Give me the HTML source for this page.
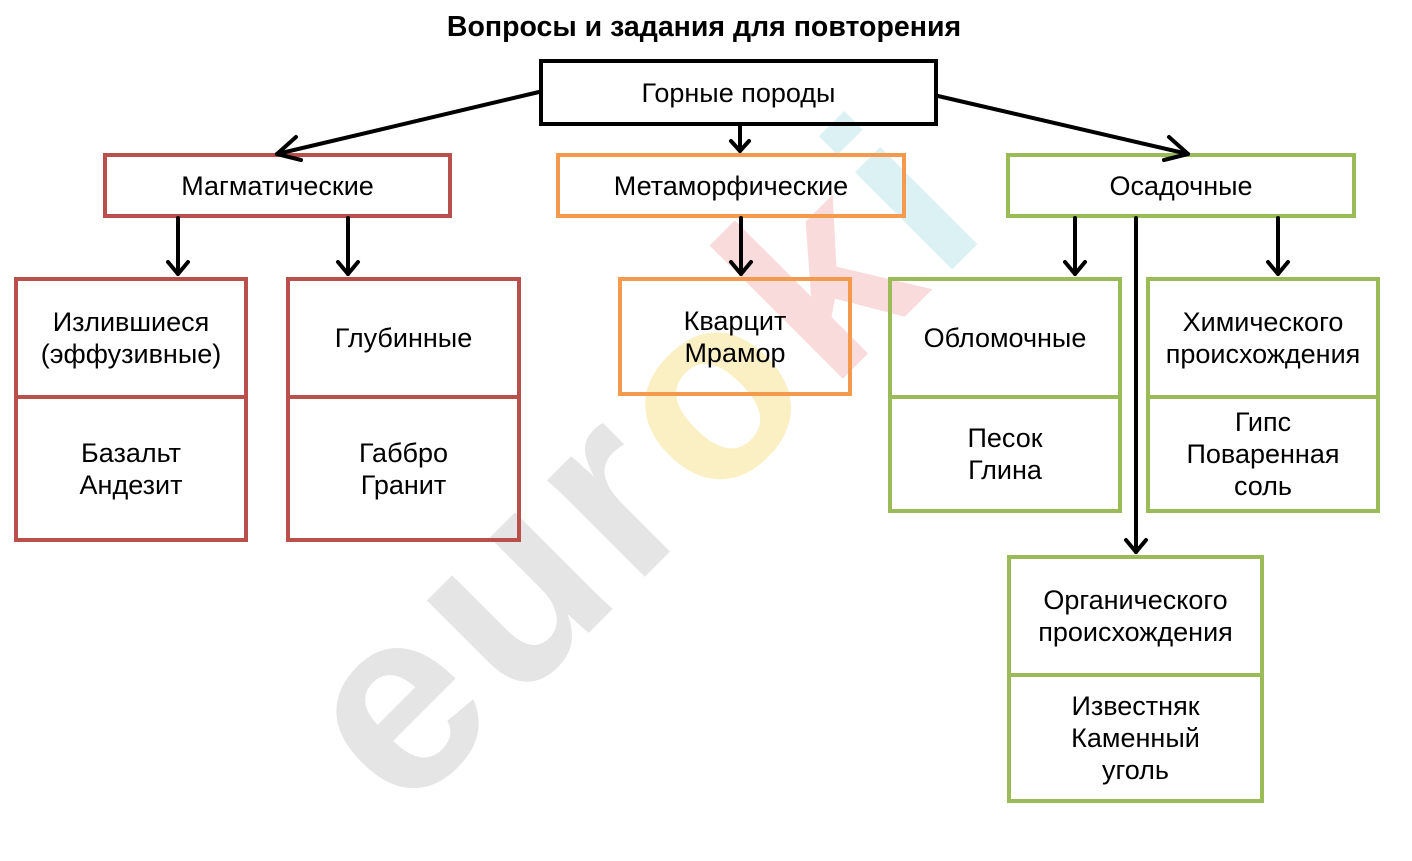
<!DOCTYPE html>
<html><head><meta charset="utf-8"><style>
html,body{margin:0;padding:0;background:#fff;}
body{width:1412px;height:816px;position:relative;overflow:hidden;font-family:"Liberation Sans","DejaVu Sans",sans-serif;}
.b{position:absolute;box-sizing:border-box;border:4px solid;background:transparent;display:flex;flex-direction:column;}
.c{flex:1;display:flex;align-items:center;justify-content:center;text-align:center;font-size:27px;line-height:32px;color:#000;}
.r{border-color:#b9504c;} .o{border-color:#f39a4f;} .g{border-color:#9bbb59;} .k{border-color:#000;}
.d{border-top:4px solid;border-color:inherit;}
svg{position:absolute;left:0;top:0;}
.wm{position:absolute;left:235px;top:650px;font-size:260px;font-weight:bold;color:#ccc;opacity:0.5;transform:rotate(-45deg);transform-origin:left top;white-space:nowrap;letter-spacing:10px;}
</style></head><body>
<div class="wm">eur<span style="color:#f8e08a">o</span><span style="color:#f5b8b8">k</span><span style="color:#b8e4ea">i</span></div>
<div style="position:absolute;left:0;width:1408px;top:9px;text-align:center;font-weight:bold;font-size:28.5px;line-height:36px;">Вопросы и задания для повторения</div>

<div class="b k" style="left:539px;top:59px;width:399px;height:67px;"><div class="c">Горные породы</div></div>

<div class="b r" style="left:103px;top:153px;width:349px;height:65px;"><div class="c">Магматические</div></div>
<div class="b o" style="left:556px;top:153px;width:350px;height:65px;"><div class="c">Метаморфические</div></div>
<div class="b g" style="left:1006px;top:153px;width:350px;height:65px;"><div class="c">Осадочные</div></div>

<div class="b r" style="left:14px;top:277px;width:234px;height:265px;"><div class="c" style="flex:0 0 114px">Излившиеся<br>(эффузивные)</div><div class="c d">Базальт<br>Андезит</div></div>
<div class="b r" style="left:286px;top:277px;width:235px;height:265px;"><div class="c" style="flex:0 0 114px">Глубинные</div><div class="c d">Габбро<br>Гранит</div></div>
<div class="b o" style="left:618px;top:277px;width:234px;height:119px;"><div class="c">Кварцит<br>Мрамор</div></div>
<div class="b g" style="left:888px;top:277px;width:234px;height:236px;"><div class="c" style="flex:0 0 114px">Обломочные</div><div class="c d">Песок<br>Глина</div></div>
<div class="b g" style="left:1146px;top:277px;width:234px;height:236px;"><div class="c" style="flex:0 0 114px">Химического<br>происхождения</div><div class="c d">Гипс<br>Поваренная<br>соль</div></div>
<div class="b g" style="left:1007px;top:555px;width:257px;height:248px;"><div class="c" style="flex:0 0 114px">Органического<br>происхождения</div><div class="c d">Известняк<br>Каменный<br>уголь</div></div>

<svg width="1412" height="816" viewBox="0 0 1412 816">
<g stroke="#000" stroke-width="4" fill="none" stroke-linecap="round" stroke-linejoin="round">
<line x1="539" y1="92" x2="277" y2="154"/><polyline points="296,137 277,154 301,160"/>
<line x1="740" y1="126" x2="740" y2="151"/><polyline points="731,141 740,151 749,141"/>
<line x1="938" y1="96" x2="1188" y2="154"/><polyline points="1164,160 1188,154 1169,137"/>
<line x1="178" y1="218" x2="178" y2="274"/><polyline points="168,262 178,274 188,262"/>
<line x1="348" y1="218" x2="348" y2="274"/><polyline points="338,262 348,274 358,262"/>
<line x1="741" y1="218" x2="741" y2="274"/><polyline points="731,262 741,274 751,262"/>
<line x1="1075" y1="218" x2="1075" y2="274"/><polyline points="1065,262 1075,274 1085,262"/>
<line x1="1278" y1="218" x2="1278" y2="274"/><polyline points="1268,262 1278,274 1288,262"/>
<line x1="1136" y1="218" x2="1136" y2="552"/><polyline points="1126,540 1136,552 1146,540"/>
</g></svg>
</body></html>
